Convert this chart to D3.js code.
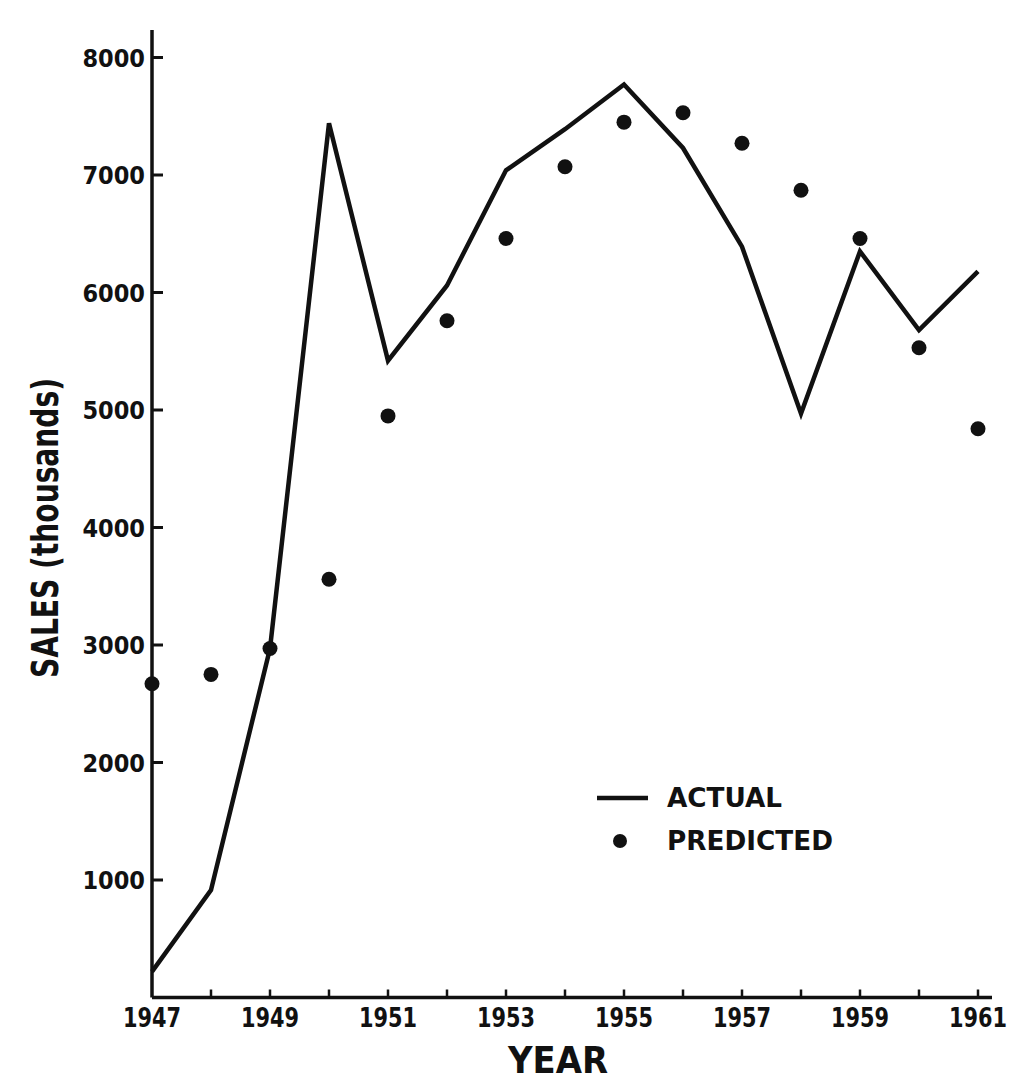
<!DOCTYPE html>
<html lang="en">

<head>
  <meta charset="UTF-8" />
  <title>Sales: actual vs predicted</title>
  <script src="https://d3js.org/d3.v7.min.js"></script>
  <style>
    body {
      margin: 0;
      background: #fff;
    }

    text {
      font-family: "DejaVu Sans Condensed", "DejaVu Sans", sans-serif;
      font-weight: bold;
      fill: #111;
    }

    .axis path,
    .axis line {
      stroke: #111;
      stroke-width: 3.5px;
    }
  </style>
</head>

<body>
  <svg width="1015" height="1082"></svg>

  <script>
    // years on the x axis
    const years = d3.range(1947, 1962);
    const yearLabels = [1947, 1949, 1951, 1953, 1955, 1957, 1959, 1961];
    const salesTicks = [1000, 2000, 3000, 4000, 5000, 6000, 7000, 8000];

    // sales in thousands
    const actual = [220, 915, 2970, 7440, 5420, 6060, 7040, 7390, 7770, 7230, 6390, 4970, 6350, 5680, 6180];
    const predicted = [2670, 2750, 2970, 3560, 4950, 5760, 6460, 7070, 7450, 7530, 7270, 6870, 6460, 5530, 4840];

    const svg = d3.select("svg");

    const x = d3.scaleLinear().domain([1947, 1961]).range([152, 978]);
    const y = d3.scaleLinear().domain([0, 8000]).range([997.5, 57.5]);

    // y axis: plain line from the top, ticks pointing inwards
    svg.append("line")
      .attr("x1", 152).attr("x2", 152)
      .attr("y1", 30).attr("y2", y(0))
      .attr("stroke", "#111").attr("stroke-width", 3.5);

    svg.selectAll(".ytick")
      .data(salesTicks)
      .join("line")
      .attr("class", "ytick")
      .attr("x1", 152).attr("x2", 163)
      .attr("y1", d => y(d)).attr("y2", d => y(d))
      .attr("stroke", "#111").attr("stroke-width", 3);

    svg.selectAll(".ylabel")
      .data(salesTicks)
      .join("text")
      .attr("class", "ylabel")
      .attr("x", 145)
      .attr("y", d => y(d))
      .attr("dy", "0.36em")
      .attr("text-anchor", "end")
      .attr("font-size", 25)
      .text(d => d);

    // x axis
    svg.append("line")
      .attr("x1", 152).attr("x2", 992)
      .attr("y1", y(0)).attr("y2", y(0))
      .attr("stroke", "#111").attr("stroke-width", 3.5);

    svg.selectAll(".xtick")
      .data(years.slice(1))
      .join("line")
      .attr("class", "xtick")
      .attr("x1", d => x(d)).attr("x2", d => x(d))
      .attr("y1", y(0)).attr("y2", y(0) - 8)
      .attr("stroke", "#111").attr("stroke-width", 2.5);

    svg.selectAll(".xlabel")
      .data(yearLabels)
      .join("text")
      .attr("class", "xlabel")
      .attr("x", d => x(d))
      .attr("y", 1027)
      .attr("text-anchor", "middle")
      .attr("font-size", 26)
      .attr("textLength", 58)
      .attr("lengthAdjust", "spacingAndGlyphs")
      .text(d => d);

    // axis titles
    svg.append("text")
      .attr("transform", "translate(58,528) rotate(-90)")
      .attr("text-anchor", "middle")
      .attr("font-size", 38)
      .attr("textLength", 300)
      .attr("lengthAdjust", "spacingAndGlyphs")
      .text("SALES (thousands)");

    svg.append("text")
      .attr("x", 558)
      .attr("y", 1073)
      .attr("text-anchor", "middle")
      .attr("font-size", 38)
      .attr("textLength", 100)
      .attr("lengthAdjust", "spacingAndGlyphs")
      .text("YEAR");

    // actual line
    const line = d3.line()
      .x((d, i) => x(years[i]))
      .y(d => y(d));

    svg.append("path")
      .datum(actual)
      .attr("d", line)
      .attr("fill", "none")
      .attr("stroke", "#111")
      .attr("stroke-width", 4.5)
      .attr("stroke-linejoin", "miter");

    // predicted dots
    svg.selectAll(".dot")
      .data(predicted)
      .join("circle")
      .attr("class", "dot")
      .attr("cx", (d, i) => x(years[i]))
      .attr("cy", d => y(d))
      .attr("r", 7.5)
      .attr("fill", "#111");

    // legend
    const legend = svg.append("g").attr("transform", "translate(597,798)");
    legend.append("line")
      .attr("x1", 0).attr("x2", 51)
      .attr("y1", 0).attr("y2", 0)
      .attr("stroke", "#111").attr("stroke-width", 4.5);
    legend.append("text")
      .attr("x", 70).attr("y", 0).attr("dy", "0.36em")
      .attr("font-size", 26)
      .attr("textLength", 115)
      .attr("lengthAdjust", "spacingAndGlyphs")
      .text("ACTUAL");
    legend.append("circle")
      .attr("cx", 23).attr("cy", 43)
      .attr("r", 7)
      .attr("fill", "#111");
    legend.append("text")
      .attr("x", 70).attr("y", 43).attr("dy", "0.36em")
      .attr("font-size", 26)
      .attr("textLength", 166)
      .attr("lengthAdjust", "spacingAndGlyphs")
      .text("PREDICTED");
  </script>

</body>

</html>
